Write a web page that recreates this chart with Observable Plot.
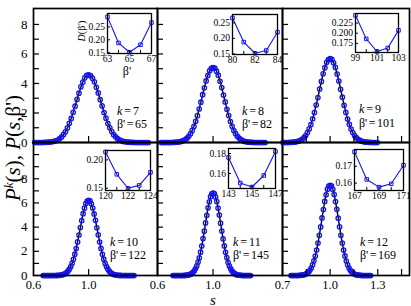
<!DOCTYPE html>
<html><head><meta charset="utf-8">
<script src="https://cdn.jsdelivr.net/npm/d3@7"></script>
<script src="https://cdn.jsdelivr.net/npm/@observablehq/plot@0.6"></script>
<style>
body{margin:0;background:#fff;}
#c{position:relative;width:411px;height:306px;overflow:hidden;font-family:"Liberation Serif",serif;color:#000;}
#c svg{position:absolute;overflow:visible;}
.t{position:absolute;white-space:nowrap;line-height:1;}
</style>
</head><body><div id="c"></div>
<script>
// ---- main panels: s values, P^k(s) circles, P(s,beta') curve ----
const s7=[0.608,0.622,0.636,0.650,0.664,0.678,0.692,0.706,0.720,0.734,0.748,0.762,0.776,0.790,0.804,0.818,0.832,0.846,0.860,0.874,0.888,0.902,0.916,0.930,0.944,0.958,0.972,0.986,1.000,1.014,1.028,1.042,1.056,1.070,1.084,1.098,1.112,1.126,1.140,1.154,1.168,1.182,1.196,1.210,1.224,1.238,1.252,1.266,1.280,1.294,1.308,1.322,1.336,1.350,1.364,1.378,1.392,1.406,1.420,1.434];
const pk7=[0,0,0,0,0,0.01,0.01,0.02,0.03,0.05,0.08,0.12,0.17,0.27,0.38,0.55,0.73,0.99,1.30,1.63,2.05,2.46,2.92,3.34,3.77,4.09,4.38,4.55,4.58,4.53,4.36,4.11,3.74,3.36,2.90,2.48,2.03,1.65,1.28,1.00,0.74,0.53,0.39,0.26,0.18,0.12,0.07,0.05,0.03,0.02,0.01,0.01,0,0,0,0,0,0,0,0];
const fit7=[0,0,0,0,0,0.006,0.01,0.017,0.029,0.047,0.075,0.117,0.178,0.264,0.382,0.538,0.739,0.989,1.292,1.645,2.041,2.469,2.912,3.349,3.754,4.103,4.372,4.542,4.6,4.542,4.372,4.103,3.754,3.349,2.912,2.469,2.041,1.645,1.292,0.989,0.739,0.538,0.382,0.264,0.178,0.117,0.075,0.047,0.029,0.017,0.01,0.006,0,0,0,0,0,0,0,0];

const s8=[0.625,0.6375,0.65,0.6625,0.675,0.6875,0.7,0.7125,0.725,0.7375,0.75,0.7625,0.775,0.7875,0.8,0.8125,0.825,0.8375,0.85,0.8625,0.875,0.8875,0.9,0.9125,0.925,0.9375,0.95,0.9625,0.975,0.9875,1,1.0125,1.025,1.0375,1.05,1.0625,1.075,1.0875,1.1,1.1125,1.125,1.1375,1.15,1.1625,1.175,1.1875,1.2,1.2125,1.225,1.2375,1.25,1.2625,1.275,1.2875,1.3,1.3125,1.325,1.3375,1.35,1.3625,1.375];
const pk8=[0,0,0,0,0,0,0,0.01,0.01,0.02,0.03,0.05,0.09,0.13,0.20,0.29,0.42,0.60,0.82,1.09,1.44,1.82,2.27,2.73,3.24,3.71,4.17,4.54,4.86,5.02,5.08,5.04,4.83,4.56,4.15,3.72,3.22,2.75,2.25,1.83,1.42,1.10,0.81,0.60,0.42,0.30,0.19,0.13,0.08,0.05,0.03,0.02,0.01,0.01,0,0,0,0,0,0,0];
const fit8=[0,0,0,0,0,0,0,0.006,0.011,0.019,0.032,0.052,0.083,0.13,0.197,0.293,0.423,0.596,0.819,1.097,1.432,1.823,2.262,2.737,3.228,3.713,4.162,4.549,4.848,5.036,5.1,5.036,4.848,4.549,4.162,3.713,3.228,2.737,2.262,1.823,1.432,1.097,0.819,0.596,0.423,0.293,0.197,0.13,0.083,0.052,0.032,0.019,0.011,0.006,0,0,0,0,0,0,0];

const s9=[0.703,0.714,0.725,0.736,0.747,0.758,0.769,0.78,0.791,0.802,0.813,0.824,0.835,0.846,0.857,0.868,0.879,0.89,0.901,0.912,0.923,0.934,0.945,0.956,0.967,0.978,0.989,1,1.011,1.022,1.033,1.044,1.055,1.066,1.077,1.088,1.099,1.11,1.121,1.132,1.143,1.154,1.165,1.176,1.187,1.198,1.209,1.22,1.231,1.242,1.253,1.264,1.275,1.286,1.297];
const pk9=[0,0,0,0,0.01,0.01,0.02,0.04,0.06,0.09,0.15,0.22,0.33,0.47,0.67,0.92,1.22,1.61,2.03,2.54,3.05,3.62,4.14,4.66,5.07,5.43,5.61,5.68,5.63,5.40,5.09,4.64,4.16,3.60,3.07,2.52,2.04,1.59,1.23,0.91,0.67,0.47,0.33,0.22,0.14,0.09,0.06,0.03,0.02,0.01,0.01,0,0,0,0];
const fit9=[0,0,0,0,0.007,0.012,0.021,0.035,0.058,0.093,0.145,0.221,0.327,0.473,0.666,0.915,1.226,1.601,2.038,2.529,3.059,3.608,4.15,4.652,5.084,5.418,5.628,5.7,5.628,5.418,5.084,4.652,4.15,3.608,3.059,2.529,2.038,1.601,1.226,0.915,0.666,0.473,0.327,0.221,0.145,0.093,0.058,0.035,0.021,0.012,0.007,0,0,0,0];

const s10=[0.67,0.68,0.69,0.70,0.71,0.72,0.73,0.74,0.75,0.76,0.77,0.78,0.79,0.80,0.81,0.82,0.83,0.84,0.85,0.86,0.87,0.88,0.89,0.90,0.91,0.92,0.93,0.94,0.95,0.96,0.97,0.98,0.99,1.00,1.01,1.02,1.03,1.04,1.05,1.06,1.07,1.08,1.09,1.10,1.11,1.12,1.13,1.14,1.15,1.16,1.17,1.18,1.19,1.20,1.21,1.22,1.23,1.24,1.25,1.26,1.27,1.28,1.29,1.30,1.31,1.32,1.33];
const pk10=[0,0,0,0,0,0,0,0,0,0,0.01,0.01,0.02,0.04,0.07,0.10,0.16,0.24,0.36,0.52,0.73,1.01,1.34,1.76,2.23,2.78,3.35,3.97,4.54,5.11,5.57,5.95,6.16,6.22,6.18,5.93,5.58,5.09,4.56,3.95,3.36,2.77,2.24,1.75,1.35,1.00,0.73,0.52,0.36,0.24,0.16,0.10,0.06,0.04,0.02,0.01,0.01,0,0,0,0,0,0,0,0,0,0];
const fit10=[0,0,0,0,0,0,0,0,0,0,0.007,0.013,0.023,0.039,0.064,0.102,0.159,0.242,0.359,0.519,0.731,1.004,1.344,1.755,2.234,2.773,3.354,3.956,4.55,5.101,5.575,5.941,6.171,6.25,6.171,5.941,5.575,5.101,4.55,3.956,3.354,2.773,2.234,1.755,1.344,1.004,0.731,0.519,0.359,0.242,0.159,0.102,0.064,0.039,0.023,0.013,0.007,0,0,0,0,0,0,0,0,0,0];

const s11=[0.712,0.721,0.73,0.739,0.748,0.757,0.766,0.775,0.784,0.793,0.802,0.811,0.82,0.829,0.838,0.847,0.856,0.865,0.874,0.883,0.892,0.901,0.91,0.919,0.928,0.937,0.946,0.955,0.964,0.973,0.982,0.991,1,1.009,1.018,1.027,1.036,1.045,1.054,1.063,1.072,1.081,1.09,1.099,1.108,1.117,1.126,1.135,1.144,1.153,1.162,1.171,1.18,1.189,1.198,1.207,1.216,1.225,1.234,1.243,1.252,1.261,1.27];
const pk11=[0,0,0,0,0,0,0,0,0,0.01,0.01,0.03,0.04,0.07,0.11,0.17,0.27,0.39,0.57,0.80,1.11,1.47,1.93,2.44,3.05,3.67,4.35,4.98,5.60,6.10,6.52,6.75,6.82,6.78,6.50,6.12,5.58,5.00,4.33,3.68,3.03,2.45,1.92,1.48,1.09,0.80,0.57,0.39,0.27,0.17,0.11,0.07,0.04,0.02,0.02,0.01,0,0,0,0,0,0,0];
const fit11=[0,0,0,0,0,0,0,0,0,0.008,0.015,0.025,0.042,0.07,0.112,0.175,0.265,0.393,0.569,0.801,1.1,1.473,1.923,2.449,3.039,3.676,4.336,4.987,5.59,6.11,6.511,6.764,6.85,6.764,6.511,6.11,5.59,4.987,4.336,3.676,3.039,2.449,1.923,1.473,1.1,0.801,0.569,0.393,0.265,0.175,0.112,0.07,0.042,0.025,0.015,0.008,0,0,0,0,0,0,0];

const s12=[0.7535,0.762,0.7705,0.779,0.7875,0.796,0.8045,0.813,0.8215,0.83,0.8385,0.847,0.8555,0.864,0.8725,0.881,0.8895,0.898,0.9065,0.915,0.9235,0.932,0.9405,0.949,0.9575,0.966,0.9745,0.983,0.9915,1,1.0085,1.017,1.0255,1.034,1.0425,1.051,1.0595,1.068,1.0765,1.085,1.0935,1.102,1.1105,1.119,1.1275,1.136,1.1445,1.153,1.1615,1.17,1.1785,1.187,1.1955,1.204,1.2125,1.221,1.2295,1.238,1.2465,1.255];
const pk12=[0,0,0,0,0,0,0.01,0.02,0.03,0.05,0.08,0.12,0.19,0.29,0.43,0.62,0.88,1.21,1.61,2.11,2.68,3.33,4.02,4.76,5.45,6.13,6.68,7.14,7.39,7.46,7.42,7.12,6.70,6.11,5.47,4.74,4.03,3.32,2.69,2.10,1.62,1.20,0.88,0.62,0.43,0.29,0.19,0.12,0.08,0.05,0.03,0.02,0.01,0,0,0,0,0,0,0];
const fit12=[0,0,0,0,0,0,0.009,0.016,0.028,0.047,0.077,0.122,0.191,0.29,0.431,0.623,0.877,1.205,1.613,2.106,2.681,3.327,4.025,4.748,5.46,6.121,6.69,7.129,7.406,7.5,7.406,7.129,6.69,6.121,5.46,4.748,4.025,3.327,2.681,2.106,1.613,1.205,0.877,0.623,0.431,0.29,0.191,0.122,0.077,0.047,0.028,0.016,0.009,0,0,0,0,0,0,0];

// ---- insets: beta' and D(beta') ----
const b7=[63,64,65,66,67],   d7=[0.289,0.188,0.152,0.181,0.267];
const b8=[80,81,82,83,84],   d8=[0.266,0.188,0.152,0.161,0.220];
const b9=[99,100,101,102,103], d9=[0.244,0.186,0.155,0.1635,0.207];
const b10=[120,121,122,123,124], d10=[0.214,0.1745,0.150,0.155,0.178];
const b11=[143,144,145,146,147], d11=[0.176,0.1505,0.1465,0.158,0.182];
const b12=[167,168,169,170,171], d12=[0.1786,0.1622,0.1576,0.1596,0.1706];

// ---- tick labels ----
const kValues=[7,8,9,10,11,12];
const betaValues=[65,82,101,122,145,169];
const yTickLabels=[0,2,4,6,8];
const yTicksTop=[1,2,3,4,5,6,7,8];
const yTicksBottom=[1,2,3,4,5,6,7,8,9,10];
const xTicksLeft=[1.0], xLabelsLeft=[0.6,1.0];
const xTicksRight=[0.85,1.0,1.15,1.3,1.45], xLabelsRight=[0.7,1.0,1.3];
const insetYTicks=[[0.15,0.20,0.25],[0.15,0.20,0.25],[0.175,0.200,0.225],[0.15,0.20],[0.16,0.18],[0.16,0.17]];
const insetYDigits=[2,2,3,2,2,2];

// ---- layout ----
const C=document.getElementById("c");
const cols=[{x:33,w:124,dom:[0.6,1.5],ticks:xTicksLeft,labels:xLabelsLeft},
            {x:157,w:125,dom:[0.6,1.5],ticks:xTicksLeft,labels:xLabelsLeft},
            {x:282,w:127,dom:[0.7,1.5],ticks:xTicksRight,labels:xLabelsRight}];
const rows=[{y:8,h:134,dom:[0,9.08],ticks:yTicksTop},{y:142,h:133,dom:[0,11],ticks:yTicksBottom}];
const series=[[s7,pk7,fit7],[s8,pk8,fit8],[s9,pk9,fit9],[s10,pk10,fit10],[s11,pk11,fit11],[s12,pk12,fit12]];
const insets=[[b7,d7],[b8,d8],[b9,d9],[b10,d10],[b11,d11],[b12,d12]];
const insetBox=[{l:107,t:13,w:44,h:40,yd:[0.147,0.302]},{l:232,t:14,w:45,h:40,yd:[0.148,0.277]},
  {l:355,t:13,w:43,h:39,yd:[0.1525,0.2485]},{l:105,t:150,w:45,h:40,yd:[0.146,0.2165]},
  {l:228,t:148,w:47,h:40,yd:[0.145,0.185]},{l:354,t:149,w:49,h:41,yd:[0.1556,0.18]}];
const annot=[[117,114.5,128],[242,114.5,128],[359,113,126.5],[110,245.5,259],[233,245.5,259],[360,245.5,259]];
const BLUE="#1414f0";
const FONT='"Liberation Serif", serif';

function place(el,l,t){el.style.left=l+"px";el.style.top=t+"px";C.appendChild(el);}

for(let i=0;i<6;i++){
  const col=cols[i%3], row=rows[Math.floor(i/3)];
  const [S,PK,FIT]=series[i];
  const data=S.map((s,j)=>({s,pk:PK[j],fit:FIT[j]}));
  const marks=[
    Plot.line(data,{x:"s",y:"fit",stroke:"black",strokeWidth:1.4}),
    Plot.dot(data,{x:"s",y:"pk",r:2.2,stroke:BLUE,strokeWidth:1.3,fill:"none"}),
    Plot.tickY(row.ticks,{y:d=>d,insetRight:col.w-6,strokeWidth:1.2}),
    Plot.tickX(col.ticks,{x:d=>d,insetTop:row.h-6,strokeWidth:1.2}),
    Plot.frame({stroke:"black",strokeWidth:1.7})
  ];
  if(i%3===0) marks.push(Plot.text(yTickLabels,{y:d=>d,text:d=>String(d),frameAnchor:"left",textAnchor:"end",dx:-6,fontSize:13,fill:"black"}));
  if(i>=3) marks.push(Plot.text(col.labels,{x:d=>d,text:d=>d.toFixed(1),frameAnchor:"bottom",lineAnchor:"top",dy:4.5,fontSize:12.5,fill:"black"}));
  const svg=Plot.plot({width:col.w,height:row.h,margin:0,
    x:{domain:col.dom,axis:null},y:{domain:row.dom,axis:null},
    style:{overflow:"visible",background:"transparent",fontFamily:FONT},marks});
  place(svg,col.x,row.y);
}

for(let i=0;i<6;i++){
  const [B,D]=insets[i], bx=insetBox[i];
  const data=B.map((b,j)=>({b,d:D[j]}));
  const yt=insetYTicks[i], dg=insetYDigits[i];
  const svg=Plot.plot({width:bx.w,height:bx.h,margin:0,
    x:{domain:[B[0],B[B.length-1]],axis:null},y:{domain:bx.yd,axis:null},
    style:{overflow:"visible",background:"white",fontFamily:FONT},
    marks:[
      Plot.line(data,{x:"b",y:"d",stroke:BLUE,strokeWidth:1.1}),
      Plot.dot(data,{x:"b",y:"d",symbol:"square",r:2,stroke:BLUE,fill:"none",strokeWidth:1}),
      Plot.tickY(yt,{y:d=>d,insetRight:bx.w-3}),
      Plot.tickX(B,{x:d=>d,insetTop:bx.h-3}),
      Plot.frame({stroke:"black",strokeWidth:1.3}),
      Plot.text(yt,{y:d=>d,text:d=>d.toFixed(dg),frameAnchor:"left",textAnchor:"end",dx:-2.5,fontSize:9.5,fill:"black"}),
      Plot.text([B[0],B[2],B[4]],{x:d=>d,text:d=>String(d),frameAnchor:"bottom",lineAnchor:"top",dy:2,fontSize:9.5,fill:"black"})
    ]});
  place(svg,bx.l,bx.t);
}

// annotations k and beta'
for(let i=0;i<6;i++){
  const [x,b1,b2]=annot[i];
  const a=document.createElement("div");a.className="t";a.style.fontSize="12px";
  a.innerHTML=`<i>k</i><span style="margin:0 2px">=</span>${kValues[i]}`;place(a,x,b1-10);
  const b=document.createElement("div");b.className="t";b.style.fontSize="12px";
  b.innerHTML=`β'<span style="margin:0 1.5px">=</span>${betaValues[i]}`;place(b,x,b2-10);
}
// inset axis labels (first inset)
const dl=document.createElement("div");dl.className="t";dl.style.fontSize="10px";
dl.style.transform="translate(-50%,-50%) rotate(-90deg)";dl.innerHTML="<i>D</i>(β')";place(dl,82,31);
const bl=document.createElement("div");bl.className="t";bl.style.fontSize="12px";
bl.style.transform="translate(-50%,-50%)";bl.innerHTML="β'";place(bl,127,71);
// main axis labels
const yl=document.createElement("div");yl.className="t";yl.style.fontSize="21px";
yl.style.transform="translate(-50%,-50%) rotate(-90deg)";
yl.innerHTML=`<i>P</i><sup style="font-size:0.62em;vertical-align:0.5em;line-height:0"><i>k</i></sup>(<i>s</i>), <i>P</i>(<i>s</i>,β')`;
place(yl,12.5,148);
const xl=document.createElement("div");xl.className="t";xl.style.fontSize="15px";xl.style.lineHeight="0.7";
xl.style.transform="translate(-50%,-50%)";xl.innerHTML="<i>s</i>";place(xl,213,300);
</script></body></html>
